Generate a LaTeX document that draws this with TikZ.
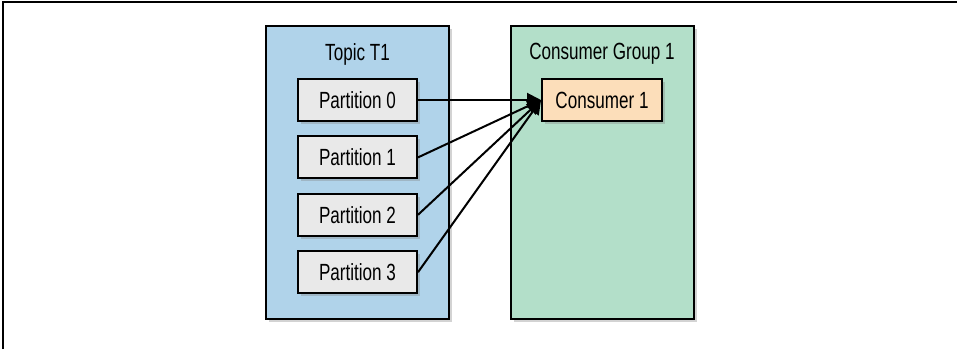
\documentclass[tikz,border=0pt]{standalone}
\usepackage{fontspec}
\setmainfont[FakeStretch=0.73]{Liberation Sans}
\usepackage{tikz}
\usetikzlibrary{arrows.meta, positioning, shadows, calc}
\definecolor{topicblue}{RGB}{176,211,234}
\definecolor{groupgreen}{RGB}{179,223,201}
\definecolor{partgray}{RGB}{233,233,233}
\definecolor{consorange}{RGB}{252,222,186}
\tikzset{%
	shade/.style={drop shadow={opacity=0.35, shadow xshift=1.5pt, shadow yshift=-1.5pt}},
	group/.style={draw, rectangle, line width=1pt, minimum width=91.5pt,%
		minimum height=146.5pt, inner sep=0pt, shade},
	part/.style={draw, rectangle, line width=1pt, minimum width=59.5pt,%
		minimum height=21pt, inner sep=0pt, fill=partgray, shade},
	cons/.style={part, fill=consorange, minimum width=60pt},
	title/.style={inner sep=0pt},
	sel/.style={-{Triangle[length=7pt, width=7pt]}, line width=1pt},
	frame/.style={line width=0.8pt}
}
\begin{document}
\begin{tikzpicture}[font=\fontsize{11.7}{14}\selectfont]
	\useasboundingbox (0,0) rectangle (478.5pt,-174.5pt);
	\draw[frame] (1.5pt,-174.5pt) -- (1.5pt,-1pt) -- (478.5pt,-1pt);

	\node[group, fill=topicblue] (topic) at (178.75pt,-86.25pt) {};
	\node[group, fill=groupgreen] (group) at (301pt,-86.25pt) {};
	\node[title, below=9pt of topic.north] (topiclbl) {Topic T1};
	\node[title, below=9pt of group.north] (grouplbl) {Consumer Group 1};

	\node[part] (p0) at (178.75pt,-50pt) {Partition 0};
	\node[part, below=6.7pt of p0] (p1) {Partition 1};
	\node[part, below=6.7pt of p1] (p2) {Partition 2};
	\node[part, below=6.7pt of p2] (p3) {Partition 3};
	\node[cons] (c1) at (p0-|group) {Consumer 1};

	\draw[sel] (p0.east) to (c1.west);
	\draw[sel] (p1.east) to (c1.west);
	\draw[sel] (p2.east) to (c1.west);
	\draw[sel] (p3.east) to (c1.west);
\end{tikzpicture}
\end{document}
